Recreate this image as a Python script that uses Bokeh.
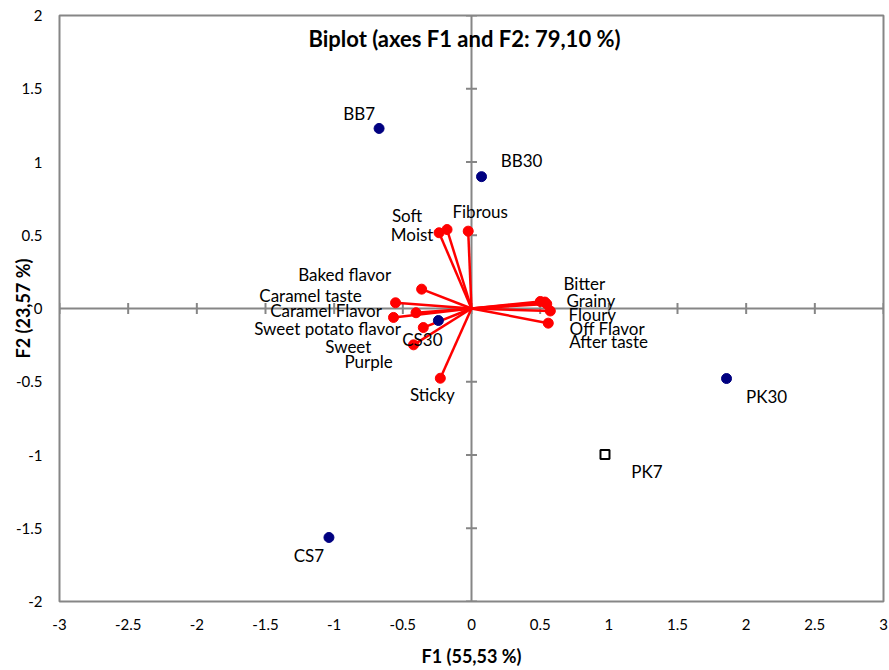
import numpy as np
from bokeh.plotting import figure
from bokeh.models import Range1d, Span, Label, ColumnDataSource, FixedTicker, CustomJSTickFormatter
from bokeh.core.properties import value
from bokeh.embed import file_html
from bokeh.resources import INLINE

TITLE = "Biplot (axes F1 and F2: 79,10 %)"
XLABEL = "F1 (55,53 %)"
YLABEL = "F2 (23,57 %)"
X_TICKS = [-3, -2.5, -2, -1.5, -1, -0.5, 0, 0.5, 1, 1.5, 2, 2.5, 3]
Y_TICKS = [-2, -1.5, -1, -0.5, 0, 0.5, 1, 1.5, 2]

# Variables (loadings)
VAR_NAMES = ["Soft", "Moist", "Fibrous", "Baked flavor", "Caramel taste", "Caramel Flavor",
             "Sweet potato flavor", "Sweet", "Purple", "Sticky",
             "Bitter", "Grainy", "After taste", "Floury", "Off Flavor"]
VAR_F1 = [-0.178, -0.236, -0.024, -0.363, -0.553, -0.404, -0.568, -0.351, -0.422, -0.227,
          0.501, 0.534, 0.548, 0.574, 0.559]
VAR_F2 = [0.539, 0.517, 0.528, 0.132, 0.039, -0.029, -0.061, -0.130, -0.248, -0.476,
          0.048, 0.044, 0.031, -0.017, -0.100]

# Active observations
OBS_NAMES = ["BB7", "BB30", "CS30", "CS7", "PK30"]
OBS_F1 = [-0.673, 0.073, -0.241, -1.038, 1.857]
OBS_F2 = [1.229, 0.900, -0.082, -1.563, -0.478]

# Supplementary observation
SUP_NAMES = ["PK7"]
SUP_F1 = [0.972]
SUP_F2 = [-0.997]

# label placement offsets in screen pixels (style, not data)
VAR_DX = [-40, -27, 12, -77, -85, -90, -66, -75, -45, -8, 44, 46, 62, 42, 59]
VAR_DY = [-14, 2, -20, -15, -7, -2, 11, 19, 17, 16, -18, -2, 38, 4, 5]
OBS_DX = [-20, 40, -16, -20, 40]
OBS_DY = [-15, -16, 19, 18, 18]
SUP_DX = [42]
SUP_DY = [17]

GRAY = "#868686"
RED = "#FF0000"
NAVY = "#000080"
FONT = "Lato"
LBL_SIZE = "17px"

p = figure(width=889, height=670, output_backend="svg", toolbar_location=None,
           x_range=Range1d(-3, 3), y_range=Range1d(-2, 2),
           min_border_left=59, min_border_right=6, min_border_top=15, min_border_bottom=69)
p.background_fill_color = "white"
p.border_fill_color = "white"
p.outline_line_color = GRAY
p.outline_line_width = 2
p.grid.visible = False

fmt = CustomJSTickFormatter(code="return tick.toString();")
p.xaxis.ticker = FixedTicker(ticks=X_TICKS)
p.yaxis.ticker = FixedTicker(ticks=Y_TICKS)
for ax in (p.xaxis, p.yaxis):
    ax.formatter = fmt
    ax.axis_line_color = None
    ax.major_tick_line_color = None
    ax.minor_tick_line_color = None
    ax.major_tick_in = 0
    ax.major_tick_out = 0
    ax.major_label_standoff = 17
    ax.major_label_text_font = FONT
    ax.major_label_text_font_size = "15px"
    ax.major_label_text_color = "#000000"
    ax.axis_label_text_font = FONT
    ax.axis_label_text_font_size = "18px"
    ax.axis_label_text_font_style = "bold"
    ax.axis_label_text_color = "#000000"

p.yaxis.axis_label = YLABEL
p.yaxis.axis_label_standoff = -21
p.xaxis.axis_label = XLABEL
p.xaxis.axis_label_standoff = 12

# zero axes
p.add_layout(Span(location=0, dimension="height", line_color=GRAY, line_width=2, level="underlay"))
p.add_layout(Span(location=0, dimension="width", line_color=GRAY, line_width=2, level="underlay"))
p.scatter(x=[0] * len(Y_TICKS), y=Y_TICKS, marker="dash", size=11, line_color=GRAY, line_width=2)
p.scatter(x=X_TICKS, y=[0] * len(X_TICKS), marker="dash", size=11, angle=np.pi / 2,
          line_color=GRAY, line_width=2)

vsrc = ColumnDataSource(dict(x0=[0] * len(VAR_F1), y0=[0] * len(VAR_F2), x=VAR_F1, y=VAR_F2,
                             name=VAR_NAMES, dx=VAR_DX, dy=VAR_DY))
p.segment(x0="x0", y0="y0", x1="x", y1="y", source=vsrc, line_color=RED, line_width=2.5)
p.scatter(x="x", y="y", source=vsrc, size=10, fill_color=RED, line_color=RED)
p.text(x="x", y="y", text="name", x_offset="dx", y_offset="dy", source=vsrc,
       text_font=value(FONT), text_font_size=LBL_SIZE, text_color="#000000",
       text_align="center", text_baseline="middle")

osrc = ColumnDataSource(dict(x=OBS_F1, y=OBS_F2, name=OBS_NAMES, dx=OBS_DX, dy=OBS_DY))
p.scatter(x="x", y="y", source=osrc, size=10, fill_color=NAVY, line_color=NAVY)
p.text(x="x", y="y", text="name", x_offset="dx", y_offset="dy", source=osrc,
       text_font=value(FONT), text_font_size=LBL_SIZE, text_color="#000000",
       text_align="center", text_baseline="middle")

ssrc = ColumnDataSource(dict(x=SUP_F1, y=SUP_F2, name=SUP_NAMES, dx=SUP_DX, dy=SUP_DY))
p.scatter(x="x", y="y", source=ssrc, marker="square", size=9, fill_color="white",
          line_color="#000000", line_width=2)
p.text(x="x", y="y", text="name", x_offset="dx", y_offset="dy", source=ssrc,
       text_font=value(FONT), text_font_size=LBL_SIZE, text_color="#000000",
       text_align="center", text_baseline="middle")

p.add_layout(Label(x=0, y=2, x_offset=-7, y_offset=-23, text=TITLE, text_font=FONT,
                   text_font_size="22px", text_font_style="bold", text_align="center",
                   text_baseline="middle", text_color="#000000"))

open("out.html", "w").write(file_html(p, INLINE))
